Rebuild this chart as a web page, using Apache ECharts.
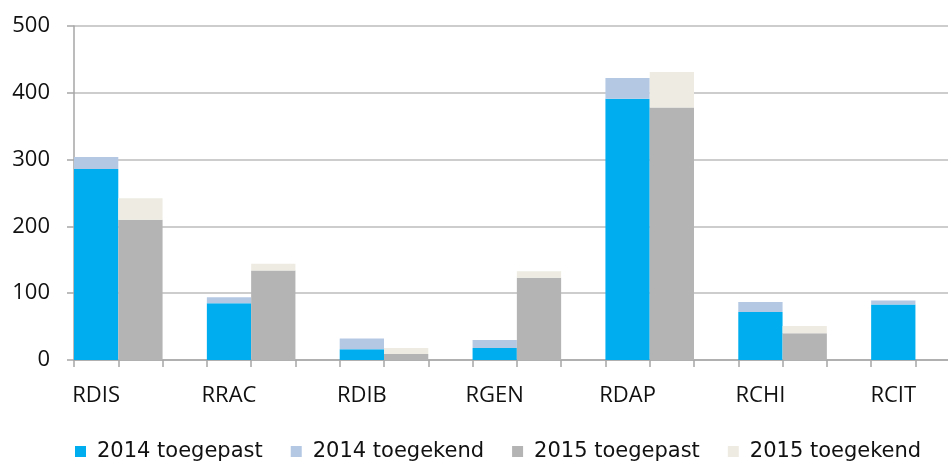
<!DOCTYPE html>
<html>
<head>
<meta charset="utf-8">
<script src="https://cdn.jsdelivr.net/npm/echarts@6/dist/echarts.min.js"></script>
<style>html,body{margin:0;padding:0;background:#fff}#c{width:948px;height:461px}</style>
</head>
<body>
<div id="c"></div>
<script>
var categories = ['RDIS', 'RRAC', 'RDIB', 'RGEN', 'RDAP', 'RCHI', 'RCIT'];
var toegepast2014 = [286, 85, 16, 18, 391, 72, 83];
var toegekend2014 = [304, 94, 32, 30, 422, 87, 89];
var toegepast2015 = [210, 134, 9, 123, 378, 40, null];
var toegekend2015 = [242, 144, 18, 133, 431, 51, null];
var yTicks = [0, 100, 200, 300, 400, 500];

// Each category occupies three slots: 2014 bar, 2015 bar, empty gap.
var slots = [];
var s14a = [], s14b = [], s15a = [], s15b = [];
categories.forEach(function (c, i) {
  slots.push(c, ' ' + i, '  ' + i);
  var d14 = toegekend2014[i] == null ? null : toegekend2014[i] - toegepast2014[i];
  var d15 = toegekend2015[i] == null ? null : toegekend2015[i] - toegepast2015[i];
  s14a.push(toegepast2014[i], null, null);
  s14b.push(d14, null, null);
  s15a.push(null, toegepast2015[i], null);
  s15b.push(null, d15, null);
});

var chart = echarts.init(document.getElementById('c'), null, {renderer: 'canvas'});
var bar = function (name, data, color) {
  return {name: name, type: 'bar', stack: 'all', data: data, barWidth: '100%',
    itemStyle: {color: color}, emphasis: {disabled: true}, animation: false};
};
chart.setOption({
  animation: false,
  legend: {
    left: 70, top: 436, itemWidth: 11, itemHeight: 11, itemGap: 28,
    icon: 'rect',
    textStyle: {fontFamily: 'DejaVu Sans', fontSize: 21, color: '#111', padding: [0, 0, 0, 6]},
    data: ['2014 toegepast', '2014 toegekend', '2015 toegepast', '2015 toegekend']
  },
  grid: {left: 74, top: 26, width: 930, height: 334, containLabel: false, outerBoundsMode: 'none'},
  xAxis: {
    type: 'category', data: slots,
    axisLine: {lineStyle: {color: '#A6A6A6', width: 1.5}},
    axisTick: {show: true, interval: 0, length: 7, lineStyle: {color: '#A6A6A6', width: 1.5}},
    axisLabel: {interval: 0, margin: 25, fontFamily: 'Open Sans', fontSize: 22, color: '#111',
      formatter: function (v) { return categories.indexOf(v) >= 0 ? v : ''; }}
  },
  yAxis: {
    type: 'value', min: yTicks[0], max: yTicks[yTicks.length - 1], interval: 100,
    axisLine: {show: true, lineStyle: {color: '#A6A6A6', width: 1.5}},
    axisTick: {show: true, length: 7, lineStyle: {color: '#A6A6A6', width: 1.5}},
    splitLine: {lineStyle: {color: '#BDBDBD', width: 1.5}},
    axisLabel: {margin: 24, fontFamily: 'Open Sans', fontSize: 22, color: '#111'}
  },
  series: [
    bar('2014 toegepast', s14a, '#00AEEF'),
    bar('2014 toegekend', s14b, '#B4C8E4'),
    bar('2015 toegepast', s15a, '#B4B4B4'),
    bar('2015 toegekend', s15b, '#EEECE2')
  ]
});
</script>
</body>
</html>
